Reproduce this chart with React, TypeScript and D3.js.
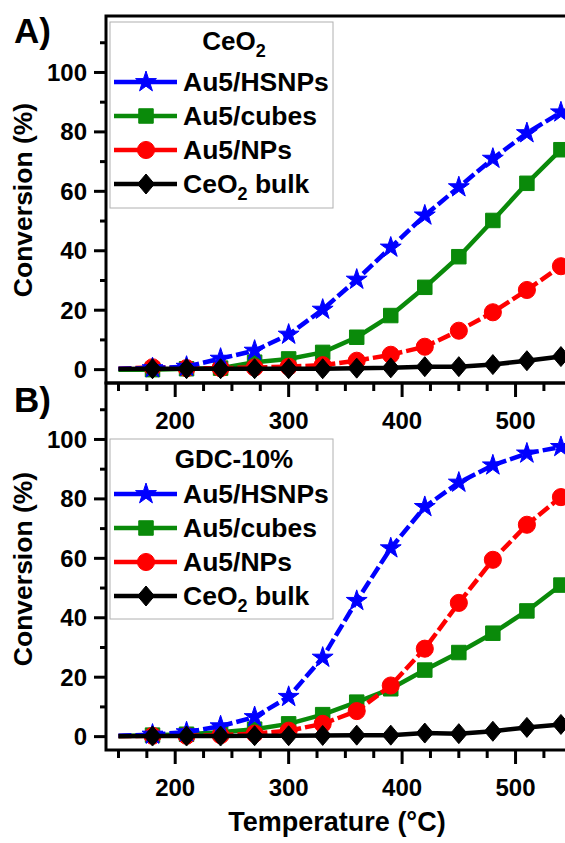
import React from 'react';
import * as d3 from 'd3';

// ---------- data ----------
const temperatures = [150, 180, 210, 240, 270, 300, 330, 360, 390, 420, 450, 480, 510, 540];

// Panel A (CeO2 supports)
const ceHSNPs = [0.3, 0.5, 1.0, 3.7, 6.4, 11.8, 20.2, 30.3, 41.1, 51.9, 61.4, 71.0, 79.6, 86.6];
const ceCubes = [0.0, 0.0, 0.3, 0.5, 2.5, 3.6, 5.8, 10.9, 18.2, 27.7, 38.0, 50.2, 62.7, 74.0];
const ceNPs = [0.3, 0.8, 0.5, 0.5, 0.7, 1.0, 1.5, 3.0, 5.0, 7.7, 13.1, 19.3, 26.8, 34.8];
const ceBulk = [0.2, 0.3, 0.3, 0.3, 0.3, 0.3, 0.3, 0.5, 0.6, 1.0, 1.0, 1.7, 3.0, 4.4];

// Panel B (GDC-10% supports)
const gdcHSNPs = [0.3, 0.7, 1.5, 3.5, 6.6, 13.4, 26.6, 45.7, 63.4, 77.3, 85.5, 91.3, 95.3, 97.5];
const gdcCubes = [0.2, 0.5, 0.8, 1.5, 2.5, 4.3, 7.4, 11.6, 16.1, 22.4, 28.3, 34.8, 42.3, 51.0];
const gdcNPs = [0.2, 0.3, 0.3, 0.5, 1.0, 2.0, 4.3, 8.6, 17.2, 29.6, 45.0, 59.5, 71.3, 80.6];
const gdcBulk = [0.1, 0.2, 0.2, 0.2, 0.3, 0.3, 0.4, 0.5, 0.5, 1.2, 1.0, 1.8, 3.1, 4.1];

const seriesNames = ['Au5/HSNPs', 'Au5/cubes', 'Au5/NPs', 'CeO2 bulk'];
const panelTitles = ['CeO2', 'GDC-10%'];
const panelLetters = ['A)', 'B)'];
const xTickMajor = [200, 300, 400, 500];
const yTickMajor = [0, 20, 40, 60, 80, 100];
const xLabel = 'Temperature (°C)';
const yLabel = 'Conversion (%)';

// ---------- layout ----------
const W = 565;
const H = 843;
const LEFT = 106;
const RIGHT = 629;
const FONT = "'Liberation Sans', Arial, sans-serif";
const markerFrom = 180;

const styles = [
  { color: '#0000ff', dash: '13 4', marker: 'star' },
  { color: '#0a8a0a', dash: null, marker: 'square' },
  { color: '#ff0000', dash: '13 4', marker: 'circle' },
  { color: '#000000', dash: null, marker: 'diamond' },
];
const drawOrder = [1, 2, 0, 3];

const panels = [
  { top: 16, bottom: 383, data: [ceHSNPs, ceCubes, ceNPs, ceBulk], legendTop: 22, legendBottom: 208, titleY: 50, entryY0: 82, tickLabelY: 429, letterY: 43, yTitleY: 200 },
  { top: 383, bottom: 750, data: [gdcHSNPs, gdcCubes, gdcNPs, gdcBulk], legendTop: 439, legendBottom: 619, titleY: 468, entryY0: 494, tickLabelY: 796, letterY: 412, yTitleY: 569 },
];

const x = d3.scaleLinear().domain([139, 600]).range([LEFT, RIGHT]);

function markerPath(kind: string): string {
  if (kind === 'star') return d3.symbol(d3.symbolStar, 135)() as string;
  if (kind === 'square') return d3.symbol(d3.symbolSquare, 210)() as string;
  if (kind === 'circle') return d3.symbol(d3.symbolCircle, 230)() as string;
  // diamond
  return 'M0,-10L8.5,0L0,10L-8.5,0Z';
}

function Marker({ kind, color, cx, cy }: { kind: string; color: string; cx: number; cy: number }) {
  return <path d={markerPath(kind)} transform={`translate(${cx},${cy})`} fill={color} stroke={color} strokeWidth={1} />;
}

function SubText({ text, ...rest }: any) {
  if (text.startsWith('CeO2')) {
    const tail = text.slice(4);
    return (
      <text {...rest}>
        CeO<tspan dy={7} fontSize={18}>2</tspan>
        <tspan dy={-7}>{tail}</tspan>
      </text>
    );
  }
  return <text {...rest}>{text}</text>;
}

function Panel({ p, idx }: { p: any; idx: number }) {
  const y = d3.scaleLinear().domain([-4.5, 119]).range([p.bottom, p.top]);
  const line = d3.line<number>().x((_, i) => x(temperatures[i])).y((v) => y(v));
  const clipId = `clip${idx}`;
  const xMinor = d3.range(150, 600, 25);
  const yMinor = d3.range(0, 119, 10);
  const legendX0 = 110;
  const legendX1 = 333;
  return (
    <g>
      <defs>
        <clipPath id={clipId}>
          <rect x={LEFT} y={p.top} width={RIGHT - LEFT} height={p.bottom - p.top} />
        </clipPath>
      </defs>
      <g clipPath={`url(#${clipId})`}>
        {drawOrder.map((s) => (
          <g key={s}>
            <path d={line(p.data[s]) as string} fill="none" stroke={styles[s].color} strokeWidth={4.5}
              strokeDasharray={styles[s].dash || undefined} strokeLinejoin="round" />
            {p.data[s].map((v: number, i: number) =>
              temperatures[i] >= markerFrom ? (
                <Marker key={i} kind={styles[s].marker} color={styles[s].color} cx={x(temperatures[i])} cy={y(v)} />
              ) : null
            )}
          </g>
        ))}
      </g>
      <rect x={LEFT} y={p.top} width={RIGHT - LEFT} height={p.bottom - p.top} fill="none" stroke="#000" strokeWidth={3} />
      {yMinor.map((v) => {
        const major = yTickMajor.includes(v);
        return <line key={v} x1={LEFT} x2={LEFT - (major ? 12 : 6)} y1={y(v)} y2={y(v)} stroke="#000" strokeWidth={3} />;
      })}
      {yTickMajor.map((v) => (
        <text key={v} x={87} y={y(v) + 8.5} textAnchor="end" fontFamily={FONT} fontWeight="bold" fontSize={24}>{v}</text>
      ))}
      {xMinor.map((v) => {
        const major = xTickMajor.includes(v);
        return <line key={v} x1={x(v)} x2={x(v)} y1={p.bottom} y2={p.bottom + (major ? 14 : 8)} stroke="#000" strokeWidth={3} />;
      })}
      {xTickMajor.map((v) => (
        <text key={v} x={x(v)} y={p.tickLabelY} textAnchor="middle" fontFamily={FONT} fontWeight="bold" fontSize={24}>{v}</text>
      ))}
      <text transform={`translate(32,${p.yTitleY}) rotate(-90)`} textAnchor="middle" fontFamily={FONT} fontWeight="bold" fontSize={26.5}>{yLabel}</text>
      <text x={14} y={p.letterY} fontFamily={FONT} fontWeight="bold" fontSize={35}>{panelLetters[idx]}</text>
      <rect x={legendX0} y={p.legendTop} width={legendX1 - legendX0} height={p.legendBottom - p.legendTop} fill="#fff" stroke="#b0b0b0" strokeWidth={1} />
      <SubText text={panelTitles[idx]} x={234} y={p.titleY} textAnchor="middle" fontFamily={FONT} fontWeight="bold" fontSize={26} />
      {seriesNames.map((name, s) => {
        const cy = p.entryY0 + s * 34;
        return (
          <g key={s}>
            <line x1={114} x2={177} y1={cy} y2={cy} stroke={styles[s].color} strokeWidth={4.5} />
            <Marker kind={styles[s].marker} color={styles[s].color} cx={146} cy={cy} />
            <SubText text={name} x={183} y={cy + 9} fontFamily={FONT} fontWeight="bold" fontSize={26.5} />
          </g>
        );
      })}
    </g>
  );
}

export default function App() {
  return (
    <svg width={W} height={H} style={{ position: 'absolute', left: 0, top: 0, background: '#fff' }}>
      <rect x={0} y={0} width={W} height={H} fill="#fff" />
      {panels.map((p, i) => (
        <Panel key={i} p={p} idx={i} />
      ))}
      <text x={337} y={831} textAnchor="middle" fontFamily={FONT} fontWeight="bold" fontSize={27}>{xLabel}</text>
    </svg>
  );
}
